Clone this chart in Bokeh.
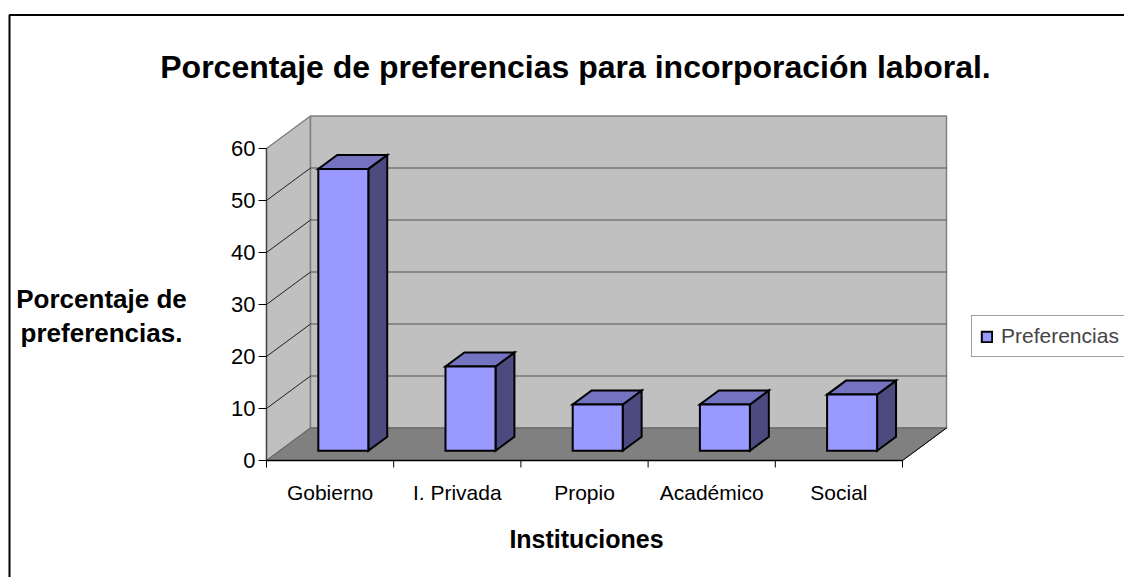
from bokeh.plotting import figure
from bokeh.models import Range1d, Legend, LegendItem
from bokeh.core.properties import value
from bokeh.embed import file_html
from bokeh.resources import INLINE

# ---------------- data ----------------
categories = ["Gobierno", "I. Privada", "Propio", "Académico", "Social"]
preferencias = [54.2, 16.2, 8.9, 8.9, 10.8]
y_ticks = [0, 10, 20, 30, 40, 50, 60]
title_text = "Porcentaje de preferencias para incorporación laboral."
y_title = ["Porcentaje de", "preferencias."]
x_title = "Instituciones"
series_name = "Preferencias"

# ---------------- layout (pixels) ----------------
W, H = 1124, 577
ORIGIN = 0        # picture px of the canvas's top-left corner
AX_X = 266.0      # picture px of the front value axis
AX_Y = 460.0      # picture px of the front zero line
CAT_PX = 127.2    # px per category
VAL_PX = 5.2      # px per value unit
DEPTH_DX_PX, DEPTH_DY_PX = 44.0, 32.5
BAR_W_PX = 50.0
D1, D2 = 0.30, 0.73   # bar front / back depth fractions
FONT = "Liberation Sans"


def fx(px):
    return (px - AX_X) / CAT_PX


def fy(py):
    return (AX_Y - py) / VAL_PX


def lx(dpx):
    return dpx / CAT_PX


def ly(dpx):
    return dpx / VAL_PX


DX = lx(DEPTH_DX_PX)
DY = ly(DEPTH_DY_PX)
N = len(categories)
VMAX = y_ticks[-1]

p = figure(width=W, height=H, output_backend="svg", toolbar_location=None,
           x_range=Range1d(fx(ORIGIN), fx(ORIGIN + W)),
           y_range=Range1d(fy(ORIGIN + H), fy(ORIGIN)),
           x_axis_location=None, y_axis_location=None, min_border=0,
           background_fill_color="white", border_fill_color="white")
p.grid.visible = False
p.outline_line_color = None

# ---------------- outer chart border ----------------
p.line(x=[fx(9), fx(9), fx(1300)], y=[fy(800), fy(14.5), fy(14.5)],
       line_color="black", line_width=2)

# ---------------- walls and floor ----------------
p.patch(x=[0, 0, DX, DX], y=[0, VMAX, VMAX + DY, DY],
        fill_color="#C0C0C0", line_color="#808080", line_width=1.5)
p.patch(x=[DX, DX, N + DX, N + DX], y=[DY, VMAX + DY, VMAX + DY, DY],
        fill_color="#C0C0C0", line_color="#808080", line_width=1.5)
p.patch(x=[0, N, N + DX, DX], y=[0, 0, DY, DY],
        fill_color="#808080", line_color="#606060", line_width=1)

# gridlines
for v in y_ticks[1:-1]:
    p.line(x=[DX, N + DX], y=[v + DY, v + DY], line_color="#505050", line_width=1.2)
    p.line(x=[0, DX], y=[v, v + DY], line_color="#202020", line_width=1)

# right edge of floor
p.line(x=[N, N + DX], y=[0, DY], line_color="black", line_width=1)

# value axis
p.line(x=[0, 0], y=[0, VMAX], line_color="#404040", line_width=1.2)
p.segment(x0=[lx(-8)] * len(y_ticks), y0=y_ticks, x1=[0] * len(y_ticks), y1=y_ticks,
          line_color="black", line_width=1)
p.text(x=[lx(-11)] * len(y_ticks), y=y_ticks, text=[str(t) for t in y_ticks],
       text_font=value(FONT), text_font_size="22px", text_align="right",
       text_baseline="middle", text_color="black")

# category axis
cat_edges = list(range(N + 1))
p.line(x=[0, N], y=[0, 0], line_color="black", line_width=1.5)
p.segment(x0=cat_edges, y0=[0] * len(cat_edges), x1=cat_edges,
          y1=[ly(-7)] * len(cat_edges), line_color="black", line_width=1)
p.text(x=[i + 0.5 for i in range(N)], y=[ly(-32)] * N, text=categories,
       text_font=value(FONT), text_font_size="21px", text_align="center",
       text_baseline="alphabetic", text_color="black")

# ---------------- 3D bars ----------------
BW = lx(BAR_W_PX)
ddx = (D2 - D1) * DX
ddy = (D2 - D1) * DY
fronts_x, fronts_y, tops_x, tops_y, sides_x, sides_y = [], [], [], [], [], []
for i, h in enumerate(preferencias):
    xl = i + 0.5 - BW / 2 + D1 * DX
    xr = xl + BW
    y0 = D1 * DY
    y1 = h + D1 * DY
    fronts_x.append([xl, xr, xr, xl])
    fronts_y.append([y0, y0, y1, y1])
    tops_x.append([xl, xr, xr + ddx, xl + ddx])
    tops_y.append([y1, y1, y1 + ddy, y1 + ddy])
    sides_x.append([xr, xr + ddx, xr + ddx, xr])
    sides_y.append([y0, y0 + ddy, y1 + ddy, y1])

p.patches(xs=sides_x, ys=sides_y, fill_color="#4B4B80", line_color="black",
          line_width=2, line_join="miter")
p.patches(xs=tops_x, ys=tops_y, fill_color="#7373BF", line_color="black",
          line_width=2, line_join="miter")
front_r = p.patches(xs=fronts_x, ys=fronts_y, fill_color="#9999FF",
                    line_color="black", line_width=2, line_join="miter")

# ---------------- titles ----------------
p.text(x=[fx(575)], y=[fy(66.5)], text=[title_text], text_font=value(FONT),
       text_font_size="32px", text_font_style="bold", text_align="center",
       text_baseline="alphabetic", text_color="black")
p.text(x=[fx(101), fx(101)], y=[fy(298), fy(332)], text=y_title,
       text_font=value(FONT), text_font_size="26px", text_font_style="bold",
       text_align="center", text_baseline="alphabetic", text_color="black")
p.text(x=[fx(586)], y=[fy(538)], text=[x_title], text_font=value(FONT),
       text_font_size="25px", text_font_style="bold", text_align="center",
       text_baseline="alphabetic", text_color="black")

# ---------------- legend ----------------
legend = Legend(items=[LegendItem(label=series_name, renderers=[front_r])],
                location=(971 - ORIGIN, (ORIGIN + H) - 357), margin=0, padding=8,
                glyph_width=13, glyph_height=13, label_standoff=8,
                label_text_font=FONT, label_text_font_size="21px",
                label_height=20, border_line_color="#404040",
                border_line_width=1, background_fill_color="white",
                background_fill_alpha=1.0)
p.add_layout(legend)

open("out.html", "w").write(file_html(p, INLINE))
